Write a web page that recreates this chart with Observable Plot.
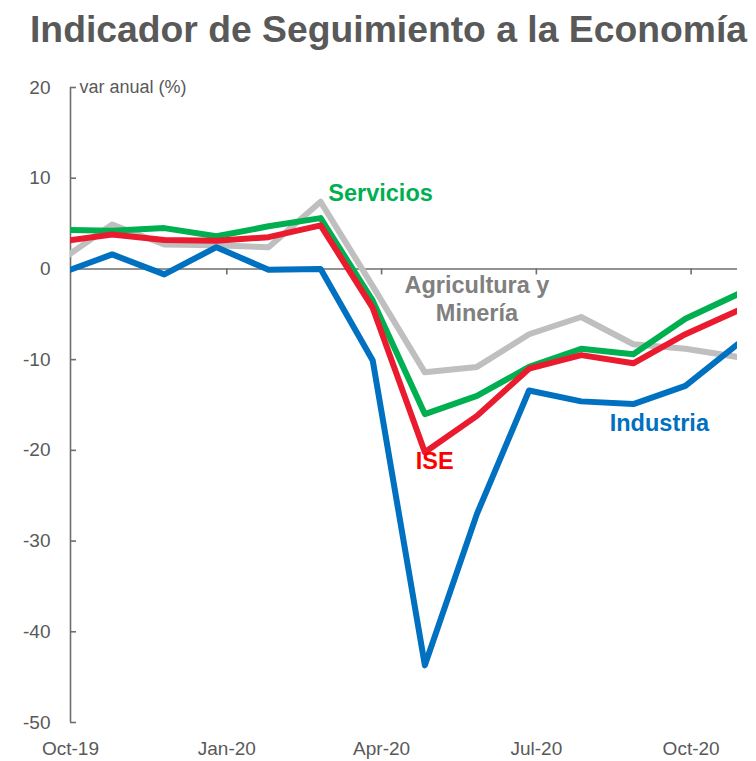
<!DOCTYPE html>
<html>
<head>
<meta charset="utf-8">
<script src="https://cdn.jsdelivr.net/npm/d3@7"></script>
<script src="https://cdn.jsdelivr.net/npm/@observablehq/plot@0.6"></script>
<style>
  html, body { margin: 0; padding: 0; background: #fff; }
  #wrap { position: relative; width: 756px; height: 761px; overflow: hidden; font-family: "Liberation Sans", Arial, sans-serif; }
  #title { position: absolute; left: 30px; top: 11px; font-size: 37.3px; line-height: 37px; font-weight: bold; color: #595959; white-space: nowrap; }
  #chart { position: absolute; left: 0; top: 60px; }
</style>
</head>
<body>
<div id="wrap">
  <div id="title">Indicador de Seguimiento a la Economía</div>
  <div id="chart"></div>
</div>
<script>
// Months (one value per month, Oct-19 .. Nov-20)
const months = ["Oct-19","Nov-19","Dec-19","Jan-20","Feb-20","Mar-20","Apr-20","May-20","Jun-20","Jul-20","Aug-20","Sep-20","Oct-20","Nov-20"];

// Series values (var anual %)
const ise         = [3.0, 3.8, 3.2, 3.1, 3.5, 4.8, -4.3, -20.2, -16.2, -11.0, -9.5, -10.4, -7.2, -4.6];
const servicios   = [4.3, 4.2, 4.5, 3.6, 4.7, 5.6, -3.5, -16.0, -14.0, -10.8, -8.8, -9.4, -5.5, -2.8];
const industria   = [-0.5, 1.6, -0.6, 2.4, -0.1, 0.0, -10.1, -43.7, -27.0, -13.4, -14.6, -14.9, -12.9, -8.3];
const agricultura = [0.9, 4.9, 2.7, 2.6, 2.4, 7.4, -1.9, -11.4, -10.8, -7.2, -5.3, -8.3, -8.8, -9.7];

// Axis ticks
const yTicks = [-50, -40, -30, -20, -10, 0, 10, 20];
const xTickLabels = ["Oct-19", "Jan-20", "Apr-20", "Jul-20", "Oct-20"];
const xTickPos = [0.2, 3.2, 6.17, 9.14, 12.11];
const yLabel = "var anual (%)";

// Series meta (drawing order: back to front)
const seriesNames = ["Agricultura y Minería", "Servicios", "Industria", "ISE"];
const seriesValues = [agricultura, servicios, industria, ise];
const seriesColors = ["#BFBFBF", "#00B050", "#0070C0", "#EA1B2E"];

// Inline labels
const labels = [
  {text: "Servicios", x: 6.15, y: 8.5, color: "#00B050"},
  {text: "Agricultura y\nMinería", x: 8.0, y: -3.2, color: "#808080"},
  {text: "ISE", x: 7.19, y: -21.0, color: "#FF0000"},
  {text: "Industria", x: 11.5, y: -16.9, color: "#0070C0"}
];

const rows = seriesNames.flatMap((s, k) => seriesValues[k].map((v, i) => ({s, i, v, month: months[i]})));
const labelMap = new Map(xTickPos.map((p, i) => [p, xTickLabels[i]]));

const axisColor = "#6E6E6E";
const textColor = "#595959";
const W = 756, H = 701, mL = 70, mR = 19, mT = 27, mB = 39;
const xDomain = [0.2, 13];

const marks = [
  Plot.ruleY([0], {stroke: axisColor, strokeWidth: 1.6}),
  Plot.ruleX([xDomain[0]], {stroke: axisColor, strokeWidth: 1.6}),
  Plot.tickY(yTicks, {y: d => d, stroke: axisColor, strokeWidth: 1.6, insetRight: (W - mL - mR) - 6}),
  Plot.ruleX(xTickPos.slice(1), {x: d => d, y1: 0, y2: 0, insetBottom: -6, stroke: axisColor, strokeWidth: 1.6}),
  Plot.axisY({ticks: yTicks, tickSize: 0, tickPadding: 20, tickFormat: d => String(d), fontSize: 19, color: textColor, label: null}),
  Plot.axisX({ticks: xTickPos, tickSize: 0, tickPadding: 19, tickFormat: d => labelMap.get(d), fontSize: 19, color: textColor, label: null}),
  Plot.text([yLabel], {frameAnchor: "top-left", dx: 9, textAnchor: "start", lineAnchor: "middle", fontSize: 18, fill: textColor}),
  ...seriesNames.map((s, k) => Plot.line(rows.filter(d => d.s === s), {
    x: "i", y: "v", stroke: seriesColors[k], strokeWidth: 6,
    strokeLinejoin: "round", strokeLinecap: "round", clip: true
  })),
  Plot.text(labels, {x: "x", y: "y", text: "text", fill: "color", fontSize: 23.5, fontWeight: "bold",
    textAnchor: "middle", lineAnchor: "middle", lineHeight: 1.22})
];

const chart = Plot.plot({
  width: W, height: H,
  marginLeft: mL, marginRight: mR, marginTop: mT, marginBottom: mB,
  x: {type: "linear", domain: xDomain},
  y: {domain: [-50, 20]},
  style: {fontFamily: "'Liberation Sans', Arial, sans-serif", background: "white", overflow: "visible"},
  marks
});
document.getElementById("chart").appendChild(chart);
</script>
</body>
</html>
